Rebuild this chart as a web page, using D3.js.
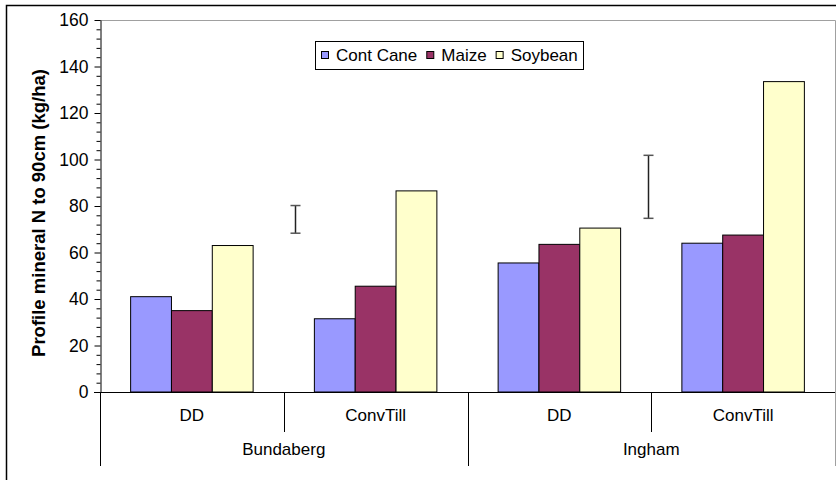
<!DOCTYPE html>
<head>
  <meta charset="utf-8" />
  <script src="https://d3js.org/d3.v7.min.js"></script>
  <style>
    body {
      margin: 0;
      background: #fff;
    }
    text {
      font-family: Arial, "Liberation Sans", sans-serif;
      fill: #000;
    }
  </style>
</head>

<body>
  <script>
    // donnees
    var sites = ["Bundaberg", "Ingham"];
    var tillage = ["DD", "ConvTill"];
    var series = ["Cont Cane", "Maize", "Soybean"];
    var contCane = [41, 31.5, 55.5, 64];
    var maize = [35, 45.5, 63.5, 67.5];
    var soybean = [63, 86.5, 70.5, 133.5];
    var yTicks = [0, 20, 40, 60, 80, 100, 120, 140, 160];
    // barres LSD : position (en categories), bas, haut
    var lsdPos = [1.06, 2.98];
    var lsdLow = [68.3, 74.7];
    var lsdHigh = [80.2, 101.8];

    var colors = ["#9999ff", "#993366", "#ffffcc"];
    var values = [contCane, maize, soybean];

    var width = 836,
      height = 480;
    var pLeft = 100, pRight = 835, pTop = 20, pBottom = 392;

    var svg = d3
      .select("body")
      .append("svg")
      .attr("width", width)
      .attr("height", height);

    // cadre exterieur (coupe a droite et en bas)
    svg.append("path")
      .attr("d", "M6.5,480 V5.5 H836")
      .attr("fill", "none")
      .attr("stroke", "#000")
      .attr("stroke-width", 1.5);

    // liste des categories
    var cats = [];
    sites.forEach(function (s) {
      tillage.forEach(function (t) {
        cats.push(s + "|" + t);
      });
    });

    var x0 = d3.scaleBand().domain(cats).range([pLeft, pRight]);
    var x1 = d3.scaleBand().domain(series).range([0, x0.bandwidth()]).paddingOuter(0.75);
    var xPos = d3.scaleLinear().domain([0, cats.length]).range([pLeft, pRight]);
    var y = d3.scaleLinear().domain([0, 160]).range([pBottom, pTop]);

    // bord de la zone de trace
    svg.append("path")
      .attr("d", "M" + pLeft + "," + (pTop + 0.5) + " H" + (pRight + 0.5) + " V466")
      .attr("fill", "none")
      .attr("stroke", "#a0a0a0")
      .attr("stroke-width", 1);

    // barres
    var g = svg.append("g");
    series.forEach(function (s, si) {
      g.selectAll(".bar" + si)
        .data(values[si])
        .enter()
        .append("rect")
        .attr("x", function (d, i) { return x0(cats[i]) + x1(s); })
        .attr("y", function (d) { return y(d); })
        .attr("width", x1.bandwidth())
        .attr("height", function (d) { return y(0) - y(d); })
        .attr("fill", colors[si])
        .attr("stroke", "#000")
        .attr("stroke-width", 1);
    });

    // barres d'erreur
    var eb = svg.append("g").attr("stroke", "#222").attr("stroke-width", 1.5);
    lsdPos.forEach(function (p, i) {
      var cx = Math.round(xPos(p)) + 0.5;
      eb.append("line").attr("x1", cx).attr("x2", cx)
        .attr("y1", y(lsdLow[i])).attr("y2", y(lsdHigh[i]));
      eb.append("line").attr("x1", cx - 5).attr("x2", cx + 5)
        .attr("y1", y(lsdLow[i])).attr("y2", y(lsdLow[i])).attr("stroke", "#555");
      eb.append("line").attr("x1", cx - 5).attr("x2", cx + 5)
        .attr("y1", y(lsdHigh[i])).attr("y2", y(lsdHigh[i])).attr("stroke", "#555");
    });

    // axe Y, graduations mineures
    var minor = d3.range(0, 161, 4).filter(function (v) { return v % 20 != 0; });
    var minorAxis = svg.append("g")
      .attr("transform", "translate(" + (pLeft + 0.5) + ",0)")
      .call(d3.axisLeft(y).tickValues(minor).tickSize(4).tickFormat(""));
    minorAxis.select(".domain").remove();

    var yAxis = svg.append("g")
      .attr("transform", "translate(" + (pLeft + 0.5) + ",0)")
      .call(d3.axisLeft(y).tickValues(yTicks).tickSize(6).tickSizeOuter(0).tickPadding(6));
    yAxis.selectAll("text").style("font-size", "17.5px").style("font-family", "Arial, 'Liberation Sans', sans-serif");
    yAxis.selectAll("line").attr("stroke", "#000");
    yAxis.select(".domain").attr("stroke", "#000");

    // axe X
    svg.append("line")
      .attr("x1", pLeft - 6).attr("x2", pRight)
      .attr("y1", y(0) + 0.5).attr("y2", y(0) + 0.5)
      .attr("stroke", "#000");
    svg.append("line")
      .attr("x1", pLeft + 0.5).attr("x2", pLeft + 0.5)
      .attr("y1", y(0)).attr("y2", 466)
      .attr("stroke", "#000");

    // separateurs et etiquettes de categories
    cats.forEach(function (c, i) {
      if (i > 0) {
        var bx = Math.round(x0(c)) + 0.5;
        svg.append("line")
          .attr("x1", bx).attr("x2", bx)
          .attr("y1", y(0)).attr("y2", i % tillage.length == 0 ? 466 : 432)
          .attr("stroke", "#000");
      }
      svg.append("text")
        .attr("x", x0(c) + x0.bandwidth() / 2)
        .attr("y", 421)
        .attr("text-anchor", "middle")
        .style("font-size", "17px")
        .text(c.split("|")[1]);
    });
    sites.forEach(function (s, i) {
      var a = x0(s + "|" + tillage[0]);
      var b = x0(s + "|" + tillage[tillage.length - 1]) + x0.bandwidth();
      svg.append("text")
        .attr("x", (a + b) / 2)
        .attr("y", 455)
        .attr("text-anchor", "middle")
        .style("font-size", "17px")
        .text(s);
    });

    // titre axe Y
    svg.append("text")
      .attr("transform", "translate(45,213) rotate(-90)")
      .attr("text-anchor", "middle")
      .style("font-size", "18.5px")
      .style("font-weight", "bold")
      .text("Profile mineral N to 90cm (kg/ha)");

    // legende
    var lg = svg.append("g");
    lg.append("rect")
      .attr("x", 315.5).attr("y", 41.5)
      .attr("width", 268).attr("height", 28)
      .attr("fill", "#fff")
      .attr("stroke", "#000");
    var lx = 321;
    series.forEach(function (s, i) {
      lg.append("rect")
        .attr("x", lx + 0.5).attr("y", 51.5)
        .attr("width", 7).attr("height", 7)
        .attr("fill", colors[i])
        .attr("stroke", "#000");
      var t = lg.append("text")
        .attr("x", lx + 15)
        .attr("y", 61)
        .style("font-size", "17px")
        .text(s);
      lx = lx + 15 + t.node().getComputedTextLength() + 9;
    });
  </script>
</body>
